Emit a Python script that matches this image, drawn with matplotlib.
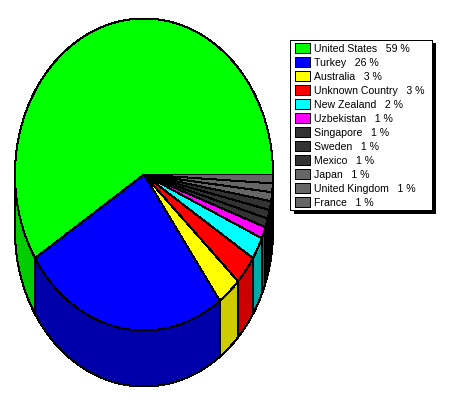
import numpy as np
import matplotlib
matplotlib.use("Agg")
import matplotlib.pyplot as plt
from matplotlib.patches import Polygon, Rectangle

countries = ["United States", "Turkey", "Australia", "Unknown Country", "New Zealand",
             "Uzbekistan", "Singapore", "Sweden", "Mexico", "Japan", "United Kingdom", "France"]
shares = [59.0, 26.0, 3.0, 3.0, 2.3, 1.2, 0.92, 0.92, 0.92, 0.92, 0.91, 0.91]
top_colors = ["#00ff00", "#0000ff", "#ffff00", "#ff0000", "#00ffff", "#ff00ff",
              "#333333", "#333333", "#333333", "#666666", "#666666", "#666666"]
side_colors = ["#00cc00", "#0000aa", "#cccc00", "#cc0000", "#00aaaa", "#aa00aa",
               "#000000", "#000000", "#000000", "#000000", "#000000", "#000000"]

CX, CY, RX, RY, DEPTH = 144, 174.5, 129, 156, 56

plt.rcParams["font.family"] = ["Liberation Sans", "DejaVu Sans"]
fig = plt.figure(figsize=(4.5, 4.0), dpi=100, facecolor="white")
ax = fig.add_axes([0, 0, 1, 1])
ax.set_xlim(0, 450)
ax.set_ylim(400, 0)
ax.axis("off")


def arc(a0, a1, dy=0.0):
    t = np.radians(np.linspace(a0, a1, max(int(abs(a1 - a0) * 3), 2)))
    return np.column_stack([CX + RX * np.cos(t), CY - RY * np.sin(t) + dy])


edges = np.concatenate([[0], np.cumsum(shares)]) / sum(shares) * 360

# walls (only the front half of the pie shows them)
for a0, a1, c in zip(edges[:-1], edges[1:], side_colors):
    lo, hi = max(a0, 180), min(a1, 360)
    if hi > lo:
        pts = np.vstack([arc(lo, hi), arc(hi, lo, DEPTH)])
        ax.add_patch(Polygon(pts, closed=True, facecolor=c, edgecolor="black",
                             linewidth=0.72, antialiased=False, zorder=2))

# top faces
for a0, a1, c in zip(edges[:-1], edges[1:], top_colors):
    pts = np.vstack([[CX, CY], arc(a0, a1)])
    ax.add_patch(Polygon(pts, closed=True, facecolor=c, edgecolor="black",
                         linewidth=0.72, antialiased=False, zorder=3))

# legend
ax.add_patch(Rectangle((294, 43), 142, 171, facecolor="black", edgecolor="none",
                       antialiased=False, zorder=4))
ax.add_patch(Rectangle((290, 39.5), 141.5, 170.5, facecolor="white", edgecolor="black",
                       linewidth=0.72, antialiased=False, zorder=5))
for i, (name, share, c) in enumerate(zip(countries, shares, top_colors)):
    y = 48 + 14 * i
    ax.add_patch(Rectangle((295, y - 5), 15, 10, facecolor=c, edgecolor="black",
                           linewidth=0.72, antialiased=False, zorder=6))
    ax.text(313.5, y + 0.5, f"{name}   {round(share)} %", fontsize=7.6, color="black",
            va="center", ha="left", zorder=6)

fig.savefig("out.png", dpi=100, facecolor="white")
